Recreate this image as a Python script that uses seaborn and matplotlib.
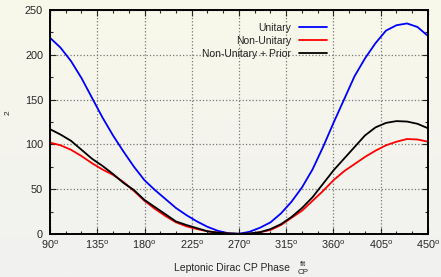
import numpy as np
import pandas as pd
import matplotlib
matplotlib.use("Agg")
import matplotlib.pyplot as plt
from matplotlib.ticker import MultipleLocator
import seaborn as sns

# CP phase values (degrees)
phase = [90, 100, 110, 120, 130, 140, 150, 160, 170, 180, 190, 200, 210,
         220, 230, 240, 250, 260, 270, 280, 290, 300, 310, 320, 330, 340,
         350, 360, 370, 380, 390, 400, 410, 420, 430, 440, 450]

unitary = [219, 208, 193, 174, 152, 130, 110, 92, 75, 60, 49, 39, 29,
           21, 14, 8, 3.5, 0.8, 0.2, 2.5, 7, 13, 23, 36, 52, 72,
           97, 124, 150, 176, 196, 213, 227, 233, 235, 231, 221]
non_unitary = [102, 99, 94, 87, 79, 72, 66, 58, 48, 37, 28, 20, 13,
               8.5, 5.5, 3, 1.5, 0.5, 0, 0.3, 2, 4.5, 10, 18, 26, 37,
               48, 60, 70, 78, 86, 93, 99, 103, 106, 105.5, 103]
non_unitary_prior = [117, 111, 104, 94, 84, 76, 67, 57, 49, 38, 30, 22, 14,
                     10, 6.5, 3, 1.5, 0.6, 0.3, 0.6, 2, 5.5, 11, 19, 29, 41,
                     56, 71, 84, 97, 110, 119, 124, 126, 125.5, 123, 118]

series = [("Unitary", unitary, "#0000ff"),
          ("Non-Unitary", non_unitary, "#ff0000"),
          ("Non-Unitary + Prior", non_unitary_prior, "#000000")]

xticks = [90, 135, 180, 225, 270, 315, 360, 405, 450]
xticklabels = [r"$\mathregular{%d^o}$" % t for t in xticks]

sns.set_style("ticks")
plt.rcParams["font.family"] = ["Liberation Sans", "DejaVu Sans"]

fig = plt.figure(figsize=(4.41, 2.77), dpi=100)

# pale yellow -> grey background gradient
bg = fig.add_axes([0, 0, 1, 1], zorder=-10)
top = np.array([248, 248, 234]) / 255.0
bot = np.array([241, 241, 240]) / 255.0
t = np.linspace(0, 1, 256)[:, None]
grad = (top * (1 - t) + bot * t)[:, None, :]
bg.imshow(grad, aspect="auto", extent=[0, 1, 0, 1])
bg.axis("off")

ax = fig.add_axes([50 / 441, 43 / 277, 378 / 441, 224 / 277])
ax.set_facecolor("none")

for name, vals, col in series:
    df = pd.DataFrame({"phase": phase, "chi2": vals})
    sns.lineplot(data=df, x="phase", y="chi2", color=col, lw=1.3, label=name, ax=ax)

ax.set_xlim(90, 450)
ax.set_ylim(0, 250)
ax.set_xticks(xticks)
ax.set_xticklabels(xticklabels, fontsize=7.8)
ax.set_yticks([0, 50, 100, 150, 200, 250])
ax.tick_params(axis="y", labelsize=7.8, pad=5)
ax.xaxis.set_minor_locator(MultipleLocator(15))
ax.yaxis.set_minor_locator(MultipleLocator(25))
ax.tick_params(which="both", direction="in", top=True, right=True, width=0.8)
ax.tick_params(which="major", length=4)
ax.tick_params(which="minor", length=2)
ax.tick_params(axis="x", pad=3)
ax.grid(True, which="major", ls=":", color="#777777", lw=0.9)
for s in ax.spines.values():
    s.set_linewidth(1.4)
    s.set_color("black")

ax.set_xlabel("")
ax.set_ylabel("")
fig.text(8 / 441, 1 - 113 / 277, "2", rotation=90, fontsize=6,
         ha="center", va="center")
fig.text(232 / 441, 1 - 268 / 277, "Leptonic Dirac CP Phase", fontsize=7.5,
         ha="center", va="center")
fig.text(303 / 441, 1 - 264 / 277, "fit", fontsize=5.8, ha="center", va="center")
fig.text(303 / 441, 1 - 272 / 277, "CP", fontsize=5.8, ha="center", va="center")

ax.legend(loc="upper right", bbox_to_anchor=(0.737, 0.952), frameon=False,
          fontsize=7.5, markerfirst=False, handlelength=2.6,
          handletextpad=0.8, labelspacing=0.3, borderpad=0.2,
          borderaxespad=0)

fig.savefig("out.png", dpi=100)
